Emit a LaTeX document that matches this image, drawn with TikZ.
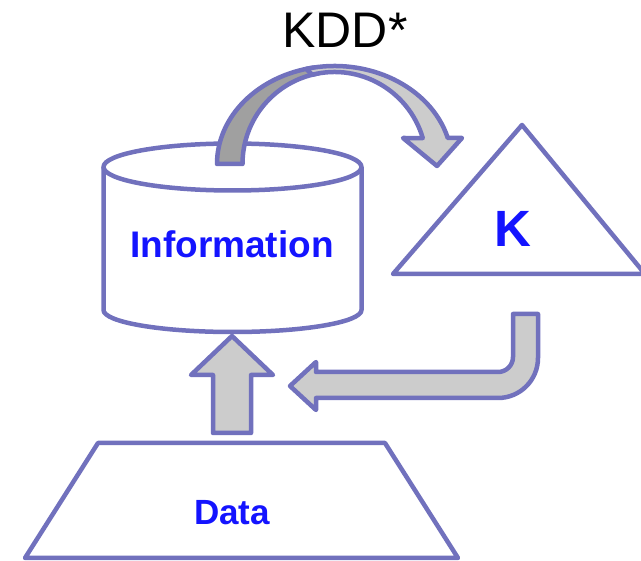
\documentclass[tikz,border=0pt]{standalone}
\usepackage{fontspec}
\setmainfont{Liberation Sans}
\usetikzlibrary{calc}
\definecolor{edgeblue}{HTML}{7171BD}
\definecolor{lightfill}{HTML}{CCCCCC}
\definecolor{darkfill}{HTML}{A0A0A0}
\definecolor{txtblue}{HTML}{1414FF}
\begin{document}
\begin{tikzpicture}[x=1pt,y=-1pt,
  shapeline/.style={draw=edgeblue,line width=4.5pt,line join=round,fill=white},
  blockarrow/.style={draw=edgeblue,line width=4.5pt,line join=round,fill=lightfill},
  darkarrow/.style={draw=edgeblue,line width=4.5pt,line join=round,fill=darkfill},
  label/.style={font=\bfseries,text=txtblue,anchor=base,inner sep=0pt},
  title/.style={anchor=base,inner sep=0pt,font=\fontsize{50}{60}\selectfont}]
\useasboundingbox (0,0) rectangle (641,561);

% cylinder (Information)
\path[shapeline] (103.5,167) -- (103.5,310)
  arc[start angle=180,end angle=0,x radius=129,y radius=22] -- (361.5,167);
\path[shapeline] (232.5,167) ellipse[x radius=129,y radius=23.5];
\node[label,font=\bfseries\fontsize{37}{44}\selectfont] (info) at (232,258) {Information};

% triangle (K)
\path[shapeline] (522,125) -- (645,274) -- (393,274) -- cycle;
\node[label,font=\bfseries\fontsize{51}{60}\selectfont] (k) at (513,247) {K};

% trapezoid (Data)
\path[shapeline] (98,443) -- (385,443) -- (458,558) -- (25,558) -- cycle;
\node[label,font=\bfseries\fontsize{35}{42}\selectfont] (data) at (232,525) {Data};

% title
\node[title] (kdd) at (345,48) {KDD*};

% up arrow Data -> Information
\path[blockarrow] (213,433) -- (213,375) -- (191,375) -- (232,336)
  -- (273,375) -- (251,375) -- (251,433) -- cycle;

% bent arrow K -> Information
\path[blockarrow] (513,314) -- (538,314) -- (538,358)
  arc[start angle=0,end angle=90,radius=40] -- (316,398) -- (316,410)
  -- (290,386) -- (316,362) -- (316,372) -- (498,372)
  arc[start angle=90,end angle=0,radius=15] -- cycle;

% curved arrow Information -> K : dark back part
\coordinate (ctr) at (334.5,164);
\path[darkarrow] ($(ctr)+(180:117.5 and 98)$)
  arc[start angle=180,end angle=260,x radius=117.5,y radius=98]
  -- ($(ctr)+(260:92)$)
  arc[start angle=260,end angle=180,radius=92] -- cycle;
% light front part with head
\path[blockarrow] ($(ctr)+(256:117.5 and 98)$)
  arc[start angle=256,end angle=344.6,x radius=117.5,y radius=98]
  -- (462,138) -- (437,166) -- (403,138)
  -- ($(ctr)+(343.6:92)$)
  arc[start angle=343.6,end angle=256,radius=92] -- cycle;
\end{tikzpicture}
\end{document}
